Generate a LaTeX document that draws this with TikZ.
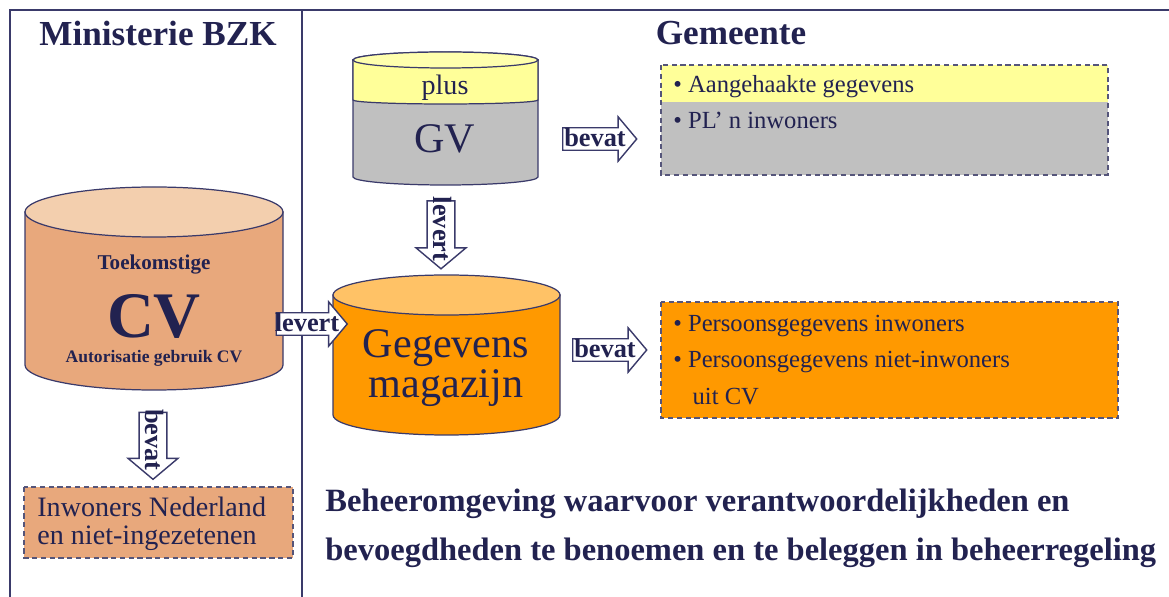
\documentclass[tikz,border=0pt]{standalone}
\usepackage{fontspec}
\setmainfont{Liberation Serif}
\usetikzlibrary{shapes.arrows}

\definecolor{navy}{HTML}{222250}
\definecolor{navyline}{HTML}{3A3A6A}
\definecolor{boxline}{HTML}{55557A}
\definecolor{peachtop}{HTML}{F3CFAE}
\definecolor{peach}{HTML}{E8A87C}
\definecolor{orangetop}{HTML}{FFC266}
\definecolor{orangebody}{HTML}{FF9900}
\definecolor{gvyellow}{HTML}{FFFF99}
\definecolor{gvgray}{HTML}{C0C0C0}

\tikzset{
  lbl/.style={text=navy, inner sep=0pt},
  cylline/.style={draw=navyline, line width=0.7pt},
  frameline/.style={draw=navyline, line width=1pt},
  listbox/.style={draw=boxline, dash pattern=on 3pt off 2pt, line width=0.8pt},
  blockarrow/.style={shape=single arrow, draw=navyline, fill=white, line width=0.8pt,
    inner xsep=-3pt, inner ysep=0pt, text height=10pt, text depth=2pt, single arrow head extend=0.22cm,
    single arrow tip angle=100, text=navy, font=\bfseries\fontsize{15}{15}\selectfont},
  downarrow/.style={blockarrow, rotate=-90, inner ysep=1.5pt},
}

% left x, right x, top y, bottom y, y radius, body colour, top colour
\newcommand\dbcyl[7]{%
  \filldraw[cylline, fill=#6] (#1,#3) -- (#1,#4)
    arc[start angle=180, end angle=0, x radius={(#2-#1)/2}, y radius=#5] -- (#2,#3) -- cycle;
  \filldraw[cylline, fill=#7] ({(#1+#2)/2},#3) ellipse [x radius={(#2-#1)/2}, y radius=#5];
}

\begin{document}
\begin{tikzpicture}[x=0.02cm, y=-0.02cm]
  \useasboundingbox (0,0) rectangle (1169,597);

  %%%%%%%%%%%%% frame %%%%%%%%%%%%%
  \draw[frameline] (10,597) -- (10,10) -- (1169,10);
  \draw[frameline] (302,10) -- (302,597);
  \node[lbl, font=\bfseries\fontsize{20}{20}\selectfont] (ministerie) at (158,33) {Ministerie BZK};
  \node[lbl, font=\bfseries\fontsize{20}{20}\selectfont] (gemeente) at (731,33) {Gemeente};

  %%%%%%%%%%%%% CV %%%%%%%%%%%%%
  \dbcyl{25}{283}{212}{365}{25}{peach}{peachtop}
  \node[lbl, font=\bfseries\fontsize{12}{12}\selectfont] (cvtop) at (154,265) {Toekomstige};
  \node[lbl, font=\bfseries\fontsize{37}{37}\selectfont] (cvlabel) at (154,316) {CV};
  \node[lbl, font=\bfseries\fontsize{10}{10}\selectfont] (cvsub) at (154,358) {Autorisatie gebruik CV};

  \node[downarrow, minimum height=1.34cm] (bevatcv) at (153,440) {bevat};

  \fill[peach] (24,487) rectangle (293,558);
  \draw[listbox] (24,487) rectangle (293,558);
  \node[lbl, anchor=west, align=left, font=\fontsize{16}{16}\selectfont] (inwoners) at (37,524)
    {Inwoners Nederland\\en niet-ingezetenen};

  %%%%%%%%%%%%% GV %%%%%%%%%%%%%
  \dbcyl{353}{538}{60}{177}{8}{gvgray}{gvyellow}
  \filldraw[cylline, fill=gvyellow] (353,60) -- (353,100)
    arc[start angle=180, end angle=0, x radius=92.5, y radius=4] -- (538,60) -- cycle;
  \filldraw[cylline, fill=gvyellow!80!white] (445.5,60) ellipse [x radius=92.5, y radius=8];
  \node[lbl, font=\fontsize{16}{16}\selectfont] (gvplus) at (445,88) {plus};
  \node[lbl, font=\fontsize{24}{24}\selectfont] (gvlabel) at (445,139) {GV};

  \node[blockarrow, minimum height=1.48cm] (bevatgv) at (595,139) {bevat};
  \node[downarrow, minimum height=1.36cm] (levertgv) at (441,229) {levert};

  \fill[gvyellow] (661,65) rectangle (1108,102);
  \fill[gvgray] (661,102) rectangle (1108,175);
  \draw[listbox] (661,65) rectangle (1108,175);
  \node[lbl, anchor=west, font=\fontsize{14}{14}\selectfont] (aangehaakt) at (673,87) {• Aangehaakte gegevens};
  \node[lbl, anchor=west, font=\fontsize{14}{14}\selectfont] (plinwoners) at (673,120) {• PL’ n inwoners};

  %%%%%%%%%%%%% Gegevensmagazijn %%%%%%%%%%%%%
  \dbcyl{333}{560}{295}{415}{20}{orangebody}{orangetop}
  \node[lbl, align=center, font=\fontsize{24}{23}\selectfont] (gmlabel) at (446,368) {Gegevens\\magazijn};

  \node[blockarrow, minimum height=1.42cm] (levertcv) at (307,324) {levert};
  \node[blockarrow, minimum height=1.48cm] (bevatgm) at (605,350) {bevat};

  \fill[orangebody] (661,302) rectangle (1118,418);
  \draw[listbox] (661,302) rectangle (1118,418);
  \node[lbl, anchor=west, align=left, font=\fontsize{14}{21}\selectfont] (persoons) at (673,360)
    {• Persoonsgegevens inwoners\\• Persoonsgegevens niet-inwoners\\\hspace*{11pt}uit CV};

  %%%%%%%%%%%%% bottom text %%%%%%%%%%%%%
  \node[lbl, anchor=west, align=left, font=\bfseries\fontsize{18.5}{27.8}\selectfont] (beheer) at (325,528)
    {Beheeromgeving waarvoor verantwoordelijkheden en\\bevoegdheden te benoemen en te beleggen in beheerregeling};
\end{tikzpicture}
\end{document}
